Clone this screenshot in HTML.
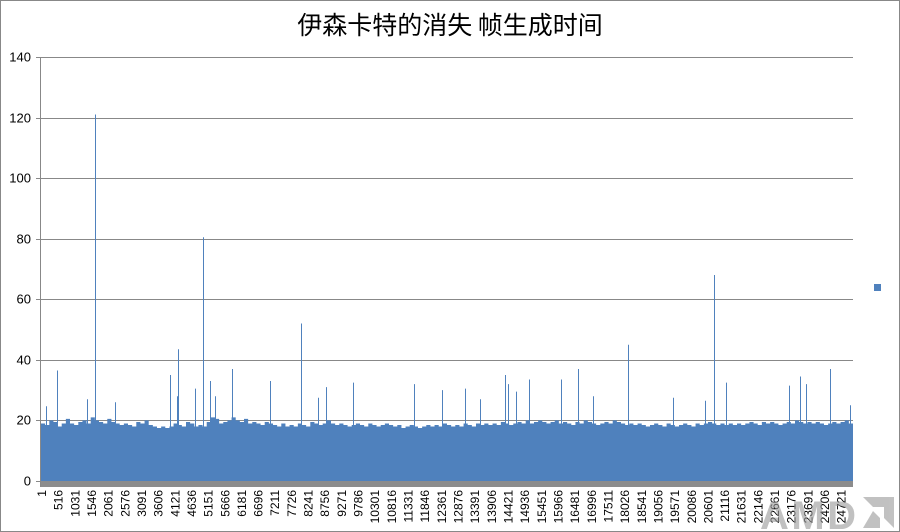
<!DOCTYPE html>
<html><head><meta charset="utf-8"><style>
html,body{margin:0;padding:0;background:#fff}
svg{display:block;font-family:"Liberation Sans","Noto Sans CJK SC",sans-serif}
</style></head><body>
<svg id="chart" width="900" height="532" viewBox="0 0 900 532" xmlns="http://www.w3.org/2000/svg">
<rect x="0.5" y="0.5" width="899" height="531" fill="#fff" stroke="#888"/>
<text x="450" y="34" text-anchor="middle" font-size="25" font-family="'Noto Sans CJK SC',sans-serif" fill="#000">伊森卡特的消失  帧生成时间</text>
<g id="grid"></g>
<g id="bars"></g>
<g id="axes"></g>
<rect x="874" y="284" width="7" height="7" fill="#4f81bd"/>
<g opacity="0.6">
<text x="760" y="529" font-size="40" font-weight="bold" fill="#999" textLength="96">AMD</text>
<path d="M863 497 L894 497 L894 528 L884 518 L884 507 L873 507 Z M873 511 L880 518 L880 528 L863 528 Z" fill="#999"/>
</g>
</svg>
<script>
const yTicks = [0,20,40,60,80,100,120,140];
const xLabels = [1,516,1031,1546,2061,2576,3091,3606,4121,4636,5151,5666,6181,6696,7211,7726,8241,8756,9271,9786,10301,10816,11331,11846,12361,12876,13391,13906,14421,14936,15451,15966,16481,16996,17511,18026,18541,19056,19571,20086,20601,21116,21631,22146,22661,23176,23691,24206,24721];
const totalFrames = 25100;
// base frame times per bin (200 bins across all frames)
const baseValues = [19,18.5,20,19.5,18,19,20.5,19,18.5,19.5,20,19,21,20,19.5,19,20.5,19.5,19,18.5,19,18.5,18,19.5,19,20,18.5,18,17.5,18,17.5,18,19,18.5,18,19.5,19,18,18.5,18,19.5,21,20.5,19,19.5,20,21,20,19.5,20.5,19,19.5,19,18.5,19.5,19,18.5,18,19,18,18.5,18,19,18.5,18,19.5,19,18.5,19,20,19,18.5,19,18.5,18,18.5,19,18.5,18,19,18.5,18,18.5,19,18.5,18,18.5,17.5,18,18.5,18,17.5,18,18.5,18,18.5,18,19,18.5,18,18.5,18,19,18.5,18,19,18.5,19,18.5,19,18.5,19.5,19,18.5,19,19.5,19,20,19,19.5,20,19.5,19,19.5,20,19,19.5,19,18.5,19.5,19,20,19.5,19,18.5,19,19.5,19,20,19.5,19,18.5,19,18.5,19,18.5,18,18.5,19,18.5,18,19,18.5,18,18.5,19,18.5,18,19,18.5,19,19.5,19,18.5,19,18.5,19,18.5,19,18.5,19,19.5,19,18.5,19.5,19,19.5,19,18.5,19,19.5,19,20,19.5,19,19.5,19,19.5,19,18.5,19,19.5,19,19.5,20,19];
// notable spikes: frame index and frame time
const spikeFrames = [155,495,1669,1422,2287,3988,4235,4204,4760,5008,5224,5379,5904,7079,8037,8563,8810,9645,11530,12396,13107,13570,14343,14436,14683,15085,16074,16600,17063,18145,19537,20526,20804,21175,23122,23462,23648,24390,25008];
const spikeValues = [24.7,36.5,121,27,26,35,43.5,28,30.5,80.5,33,28,37,33,52,27.5,31,32.5,32,30,30.5,27,35,32,29.5,33.5,33.5,37,28,45,27.5,26.5,68,32.5,31.5,34.5,32,37,25];

const X0 = 41, X1 = 853, Y0 = 481, Y1 = 57;
const yMax = 140;
const yScale = v => Y0 - v / yMax * (Y0 - Y1);
const xScale = f => X0 + (f - 1) / totalFrames * (X1 - X0);
const NS = 'http://www.w3.org/2000/svg';
function mk(tag, attrs, parent){const e=document.createElementNS(NS,tag);for(const k in attrs)e.setAttribute(k,attrs[k]);parent.appendChild(e);return e;}
const grid=document.getElementById('grid'), bars=document.getElementById('bars'), axes=document.getElementById('axes');

yTicks.forEach(t=>{
  const y=Math.round(yScale(t))+0.5;
  if(t>0){const l=mk('line',{x1:X0-1,x2:X1,y1:y,y2:y,stroke:'#888','stroke-width':1},grid);
  
  }
  const tk=mk('line',{x1:X0-5,x2:X0,y1:y,y2:y,stroke:'#888'},axes);
  
  
  const tx=mk('text',{x:31,y:y+4,'text-anchor':'end','font-size':13,fill:'#000'},axes);
  tx.textContent=t;
  
  
});

const bw=(X1-X0)/baseValues.length;
let d='M'+X0+' '+Y0;
baseValues.forEach((v,i)=>{const x=X0+i*bw;const y=yScale(v);d+=' L'+x.toFixed(2)+' '+y.toFixed(2)+' L'+(x+bw).toFixed(2)+' '+y.toFixed(2);});
d+=' L'+X1+' '+Y0+' Z';
const area=mk('path',{d:d,fill:'#4f81bd'},bars);


spikeFrames.forEach((f,i)=>{
  const x=Math.round(xScale(f))+0.5;
  const l=mk('line',{x1:x,x2:x,y1:Y0,y2:yScale(spikeValues[i]),stroke:'#4f81bd','stroke-width':1},bars);
  
  
});

const fl=mk('rect',{x:X0-1,y:Y0,width:X1-X0+1,height:6,fill:'#8c8c8c'},axes);


const ax=mk('line',{x1:X0-0.5,x2:X0-0.5,y1:Y1,y2:Y0+6,stroke:'#888'},axes);



xLabels.forEach(f=>{
  const x=xScale(f)+5;
  const t=mk('text',{x:0,y:0,'text-anchor':'end','font-size':12,fill:'#000',transform:'translate('+x.toFixed(1)+',490) rotate(-90)'},axes);
  t.textContent=f;
  
  
});
</script>
</body></html>
